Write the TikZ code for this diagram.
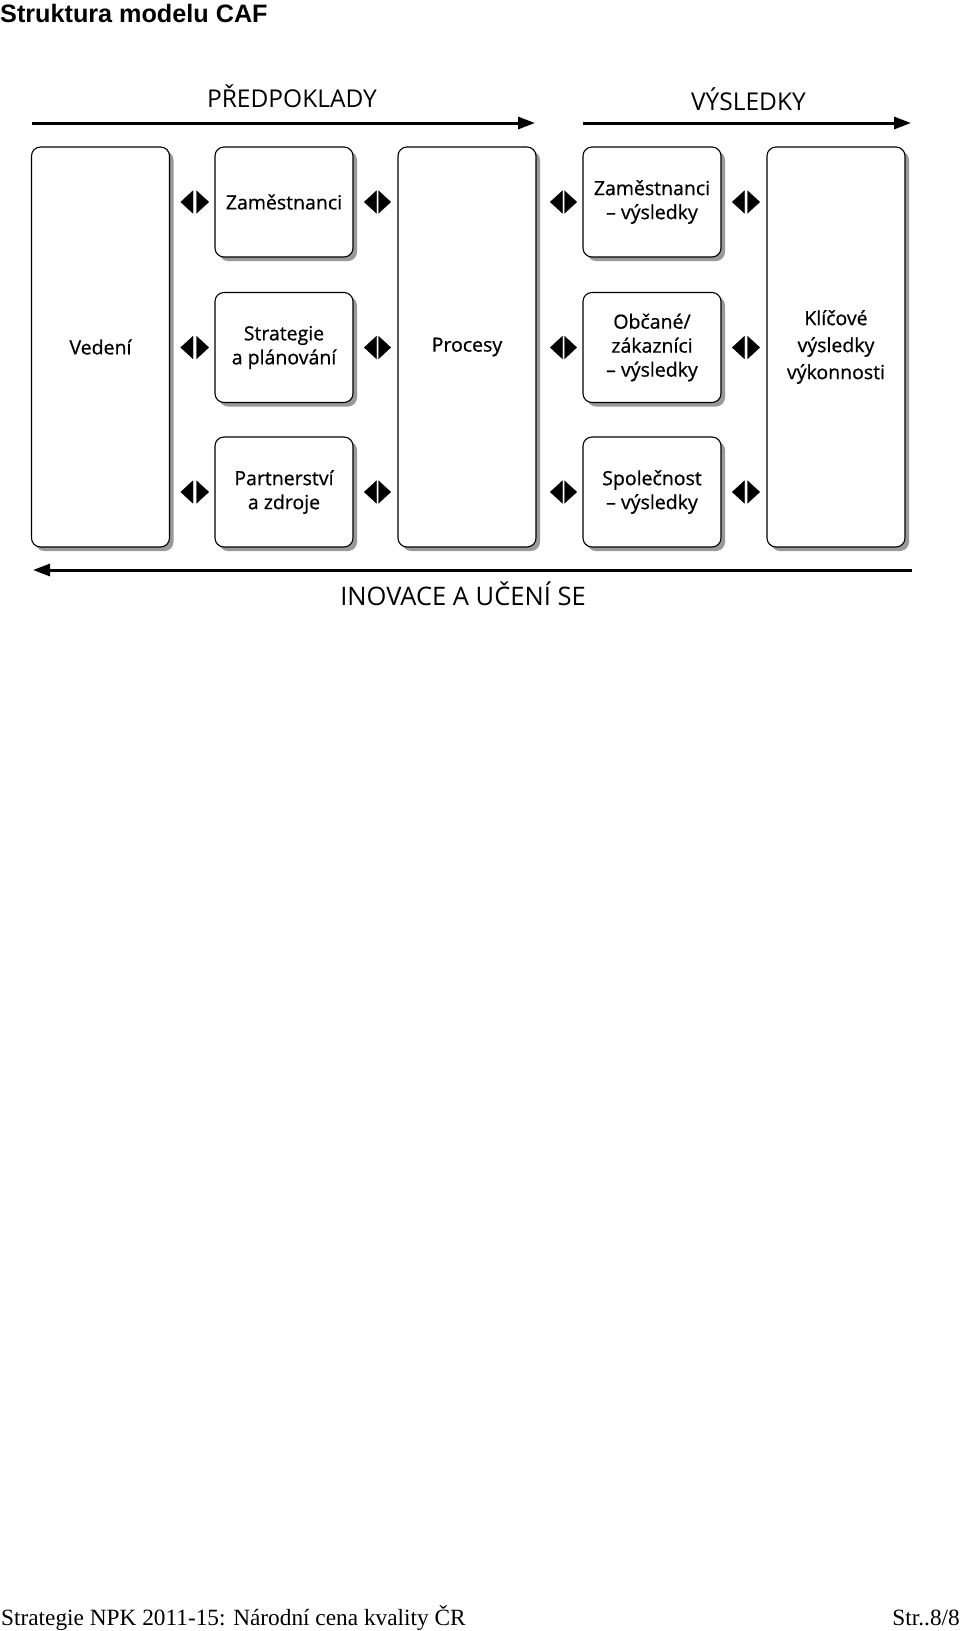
\documentclass[tikz,border=0pt]{standalone}
\usepackage{fontspec}
\setmainfont{Liberation Serif}
\newfontfamily\lblfont[FakeBold=0.7]{Open Sans}
\newfontfamily\hdrfont{Open Sans}
\newfontfamily\ttlfont{Liberation Sans}
\usetikzlibrary{arrows.meta,shadows}
\tikzset{
  box/.style={draw=black, line width=1.1pt, rounded corners=9pt, fill=white,
    drop shadow={shadow xshift=4pt, shadow yshift=-4pt, fill=black!40, opacity=1},
    align=center, inner sep=0pt, font=\lblfont\fontsize{19.5}{24}\selectfont},
  tall/.style={box, minimum width=138pt, minimum height=400pt},
  small/.style={box, minimum width=138pt, minimum height=110pt},
  hdr/.style={anchor=base, inner sep=0pt, font=\hdrfont\fontsize{24.5}{28}\selectfont},
  bigarrow/.style={line width=3pt, -{Triangle[length=17pt,width=12pt]}},
  dbl/.style={draw=white, line width=0.1pt,
    {Triangle[color=black,fill=black,length=12.5pt,width=23pt]}-{Triangle[color=black,fill=black,length=12.5pt,width=23pt]}},
}
\begin{document}
\begin{tikzpicture}[x=1pt,y=-1pt]
\useasboundingbox (0,0) rectangle (960,1631);
\fill[white] (0,0) rectangle (960,1631);

% title
\node[anchor=base west, inner sep=0pt, font=\ttlfont\bfseries\fontsize{25.2}{30}\selectfont] (title) at (0,22.7) {Struktura modelu CAF};

% boxes
\node[tall] (vedeni) at (100.5,347) {Vedení};
\node[small] (l1) at (284,202) {Zaměstnanci};
\node[small] (l2) at (284,347.5) {Strategie\\a plánování};
\node[small] (l3) at (284,492) {Partnerství\\a zdroje};
\node[tall] (procesy) at (467,347) {Procesy};
\node[small] (r1) at (652,202) {Zaměstnanci\\– výsledky};
\node[small] (r2) at (652,347.5) {Občané/\\zákazníci\\– výsledky};
\node[small] (r3) at (652,492) {Společnost\\– výsledky};
\node[tall, font=\lblfont\fontsize{19.5}{27}\selectfont] (klic) at (836,347) {Klíčové\\výsledky\\výkonnosti};

% double arrows
\foreach \b in {l1,l2,l3}{
  \draw[dbl, shorten <=10.5pt, shorten >=5.5pt] (vedeni.east |- \b.west) -- (\b.west);
  \draw[dbl, shorten <=10.5pt, shorten >=6.5pt] (\b.east) -- (procesy.west |- \b.east);
}
\foreach \b in {r1,r2,r3}{
  \draw[dbl, shorten <=13.5pt, shorten >=5.5pt] (procesy.east |- \b.west) -- (\b.west);
  \draw[dbl, shorten <=10.5pt, shorten >=6.5pt] (\b.east) -- (klic.west |- \b.east);
}

% headers and flow arrows
\coordinate (a0) at (32,123);
\coordinate (a1) at (535,123);
\coordinate (b0) at (583,123);
\coordinate (b1) at (911,123);
\coordinate (c0) at (912,570);
\coordinate (c1) at (33,570);
\draw[bigarrow] (a0) -- (a1);
\draw[bigarrow] (b0) -- (b1);
\draw[bigarrow] (c0) -- (c1);
\node[hdr] (pred) at (292,107) {PŘEDPOKLADY};
\node[hdr] (vysl) at (748.5,110) {VÝSLEDKY};
\node[hdr, font=\hdrfont\fontsize{25.5}{28}\selectfont] (inov) at (463,605) {INOVACE A UČENÍ SE};

% footer
\node[anchor=base west, inner sep=0pt, font=\fontsize{23.3}{28}\selectfont] (foot) at (1,1625.5) {Strategie NPK 2011-15: Národní cena kvality ČR};
\node[anchor=base east, inner sep=0pt, font=\fontsize{23.3}{28}\selectfont] (page) at (960,1625.5) {Str..8/8};
\end{tikzpicture}
\end{document}
